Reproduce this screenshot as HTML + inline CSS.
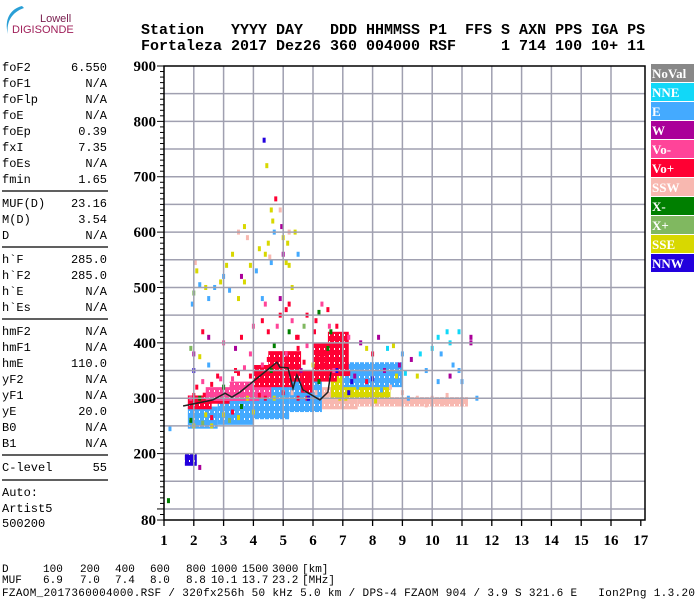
<!DOCTYPE html>
<html><head><meta charset="utf-8"><style>
html,body{margin:0;padding:0;background:#fff;}
svg{display:block;}
.m{font-family:"Liberation Mono",monospace;font-size:12px;fill:#000;}
.h{font-family:"Liberation Mono",monospace;font-size:15px;font-weight:bold;fill:#000;}
.b{font-family:"Liberation Mono",monospace;font-size:11px;fill:#000;}
.ax{font-family:"Liberation Serif",serif;font-size:15px;font-weight:bold;fill:#000;}
.lg{font-family:"Liberation Serif",serif;font-size:13px;font-weight:bold;fill:#fff;}
</style></head><body>
<svg id="c" width="700" height="600" xmlns="http://www.w3.org/2000/svg">
<defs id="defs"></defs>
<g>
<path d="M22 6 C10 9 4 20 8 34 C6 22 12 12 24 8 Z" fill="#2a9fd6"/>
<text x="40" y="22" font-family="Liberation Sans,sans-serif" font-size="11" fill="#7a2050">Lowell</text>
<text x="12" y="33" font-family="Liberation Sans,sans-serif" font-size="11" fill="#a0205a">DIGISONDE</text>
</g>
<text class="h" x="141" y="34" xml:space="preserve">Station   YYYY DAY   DDD HHMMSS P1  FFS S AXN PPS IGA PS</text>
<text class="h" x="141" y="50" xml:space="preserve">Fortaleza 2017 Dez26 360 004000 RSF     1 714 100 10+ 11</text>
<g id="params"></g>
<g id="plot"></g>
<g id="legend"></g>
<g>
<text class="b" x="2" y="572">D</text><text class="b" x="43" y="572">100</text><text class="b" x="80" y="572">200</text><text class="b" x="115" y="572">400</text><text class="b" x="150" y="572">600</text><text class="b" x="186" y="572">800</text><text class="b" x="211" y="572">1000</text><text class="b" x="242" y="572">1500</text><text class="b" x="272" y="572">3000</text><text class="b" x="302" y="572">[km]</text>
<text class="b" x="2" y="583">MUF</text><text class="b" x="43" y="583">6.9</text><text class="b" x="80" y="583">7.0</text><text class="b" x="115" y="583">7.4</text><text class="b" x="150" y="583">8.0</text><text class="b" x="186" y="583">8.8</text><text class="b" x="211" y="583">10.1</text><text class="b" x="242" y="583">13.7</text><text class="b" x="272" y="583">23.2</text><text class="b" x="302" y="583">[MHz]</text>
<text class="b" x="2" y="596" textLength="693" lengthAdjust="spacing" xml:space="preserve">FZAOM_2017360004000.RSF / 320fx256h 50 kHz 5.0 km / DPS-4 FZAOM 904 / 3.9 S 321.6 E   Ion2Png 1.3.20</text>
</g>
</svg>
<script>
// legend / echo types
const typeNames=["NoVal","NNE","E","W","Vo-","Vo+","SSW","X-","X+","SSE","NNW"];
const typeColors=["#888888","#11d8f8","#44aaff","#aa0099","#ff4499","#ff0033","#f8b8b0","#007f00","#80b860","#d8d800","#2200dd"];
// axis ticks
const freqTicks=[1,2,3,4,5,6,7,8,9,10,11,12,13,14,15,16,17];
const heightTicks=[80,200,300,400,500,600,700,800,900];
// trace (black line)
const traceF=[1.64,2.64,3.05,3.28,3.55,4.79,4.89,5.16,5.33,5.46,5.66,6.23,6.50,6.60];
const traceH=[286,297,309,302,311,365,356,355,318,342,315,297,311,347];
// dense echo bands
const bandF0=[1.8,2.8,4.0,5.2,6.3,7.5,6.6,1.8,4.5,6.0,3.2,7.0,1.7,2.3,5.6,2.4,4.0,6.5];
const bandF1=[2.8,4.0,5.2,6.3,7.5,11.2,8.6,2.6,5.6,6.8,4.6,9.0,2.1,3.2,6.0,4.2,5.3,7.2];
const bandH0=[245,252,262,275,280,285,300,280,330,330,300,320,178,290,310,295,320,340];
const bandH1=[285,298,322,338,320,302,340,305,385,400,330,365,200,310,350,320,360,420];
const bandT=[2,2,2,2,6,6,9,5,5,5,4,2,10,5,5,4,5,5];
// scattered echoes
const ptF=[4.36,4.45,4.75,4.6,4.65,4.7,4.9,4.95,5.0,5.15,5.2,4.5,4.4,4.55,4.6,5.0,5.1,5.2,3.7,3.8,3.5,3.3,3.1,3.0,3.6,3.7,2.9,2.7,2.4,2.2,2.0,1.95,2.5,2.1,2.05,3.9,4.2,4.1,5.5,5.4,4.3,4.9,5.3,5.2,4.4,3.2,3.5,
2.5,2.3,1.9,2.0,2.2,2.0,2.5,3.0,3.4,3.6,3.9,4.0,4.3,4.5,4.8,4.9,5.1,5.2,5.3,5.5,5.7,5.8,6.1,6.2,6.3,6.5,6.6,6.8,7.0,7.2,7.6,7.8,8.0,8.2,8.5,8.7,9.0,9.3,9.6,10.0,10.2,10.5,10.6,10.9,11.3,11.3,10.3,10.7,10.9,11.0,9.8,9.5,10.2,10.6,9.1,8.9,8.4,8.8,11.5,
2.1,2.3,2.6,2.8,3.0,3.3,3.5,3.7,3.9,4.1,4.3,4.5,4.6,4.8,5.0,5.1,5.3,5.5,5.6,5.7,5.9,6.0,6.2,6.4,6.5,6.6,6.8,7.0,7.2,7.4,7.6,7.8,8.0,8.2,1.9,2.2,2.4,2.6,3.0,3.3,3.6,3.8,4.2,4.4,4.7,5.0,5.3,5.5,5.8,6.1,6.4,6.9,7.2,7.5,7.8,8.3,8.6,9.0,9.5,10.0,10.5,11.0,1.9,2.0,2.3,2.6,3.2,3.5,4.0,1.2,1.15,2.2,
5.45,5.8,6.05,6.4,6.55,5.0,4.7,3.4,2.9,2.0,7.1,7.3,8.1,8.9,9.2,9.8,10.4,6.7,6.2,5.85];
const ptH=[766,720,660,640,620,600,640,610,590,580,600,580,560,555,545,560,545,540,610,590,600,560,540,520,520,510,510,500,500,505,490,470,480,530,545,540,570,530,560,600,480,480,500,470,470,495,480,
410,420,390,380,375,350,360,400,390,410,380,430,440,420,430,450,460,420,440,410,430,450,440,455,470,460,420,430,400,410,400,390,380,410,390,395,380,370,380,390,410,420,400,420,410,400,380,360,350,330,350,340,330,340,345,360,350,340,300,
320,330,325,340,320,335,345,355,340,350,360,370,350,340,360,380,370,390,350,365,340,360,380,360,390,370,350,360,345,340,350,330,335,345,300,300,270,265,270,275,285,300,305,300,300,310,310,300,300,310,300,300,310,320,315,315,320,310,300,300,305,295,260,250,255,250,260,265,275,245,115,175,
410,395,420,380,430,300,395,350,335,305,300,330,295,290,300,288,292,350,330,300];
const ptT=[10,9,5,9,9,2,6,3,9,9,6,9,9,6,2,3,9,9,9,6,6,9,9,2,3,9,9,2,9,2,8,2,2,9,6,9,9,2,2,9,2,3,9,5,4,2,9,
3,5,8,3,9,10,2,4,3,5,4,4,5,5,4,5,5,7,4,5,8,5,5,7,4,5,7,5,5,4,3,9,5,3,1,9,2,3,1,1,1,1,1,1,3,3,2,2,2,2,2,9,2,3,1,3,3,9,2,
5,4,5,5,7,4,5,4,5,5,4,5,7,5,5,4,5,5,3,5,5,9,5,5,7,5,10,5,5,3,2,5,10,2,4,7,9,5,9,5,7,9,5,5,9,5,6,5,5,6,6,9,10,2,9,2,6,6,6,6,6,6,7,9,8,9,8,9,9,2,7,3,
5,4,5,5,4,1,7,5,4,5,9,10,9,6,2,6,6,4,7,10];

const NS="http://www.w3.org/2000/svg";
const svg=document.getElementById('c');
function el(tag,attrs,parent){const e=document.createElementNS(NS,tag);for(const k in attrs)e.setAttribute(k,attrs[k]);(parent||svg).appendChild(e);return e;}
const X0=164,X1=645,Y0=66,Y1=520;
function xS(f){return X0+(f-1)*29.8;}
function yS(h){return Y0+(900-h)*0.5537;}

// textured patterns per echo type
const defs=document.getElementById('defs');
typeColors.forEach((c,i)=>{
  const p=el('pattern',{id:'pt'+i,width:5,height:7,patternUnits:'userSpaceOnUse'},defs);
  el('rect',{x:0,y:0,width:5,height:7,fill:c},p);
  el('rect',{x:4,y:5,width:1,height:2,fill:'#fff'},p);
});

// parameter panel
const params=[["foF2","6.550",67],["foF1","N/A",83],["foFlp","N/A",99],["foE","N/A",115],["foEp","0.39",131],["fxI","7.35",147],["foEs","N/A",163],["fmin","1.65",179],
["MUF(D)","23.16",203],["M(D)","3.54",219],["D","N/A",235],["h`F","285.0",259],["h`F2","285.0",275],["h`E","N/A",291],["h`Es","N/A",307],
["hmF2","N/A",331],["hmF1","N/A",347],["hmE","110.0",363],["yF2","N/A",379],["yF1","N/A",395],["yE","20.0",411],["B0","N/A",427],["B1","N/A",443],["C-level","55",467],
["Auto:","",492],["Artist5","",508],["500200","",523]];
const pg=document.getElementById('params');
params.forEach(p=>{
  const t=el('text',{class:'m',x:2,y:p[2]+4},pg);t.textContent=p[0];
  
  
  if(p[1]){const v=el('text',{class:'m',x:107,y:p[2]+4,'text-anchor':'end'},pg);v.textContent=p[1];
  
  }
});
[191,247,319,455,480].forEach(y=>{const l=el('line',{x1:2,x2:108,y1:y,y2:y,stroke:'#000','stroke-width':1.3},pg);
  
  });

const plot=document.getElementById('plot');


// bands
for(let i=0;i<bandF0.length;i++){
  const r=el('rect',{x:xS(bandF0[i]),y:yS(bandH1[i]),width:xS(bandF1[i])-xS(bandF0[i]),height:yS(bandH0[i])-yS(bandH1[i]),fill:'url(#pt'+bandT[i]+')'},plot);
  
  
}
// points
for(let i=0;i<ptF.length;i++){
  const r=el('rect',{x:xS(ptF[i])-1.5,y:yS(ptH[i])-2.5,width:3,height:5,fill:typeColors[ptT[i]]},plot);
  
  
}
// grid
for(let h=100;h<900;h+=50){const l=el('line',{x1:X0,x2:X1,y1:yS(h),y2:yS(h),stroke:'#a0a0b0','stroke-width':1.5},plot);
  
  }
for(let f=2;f<17;f++){const l=el('line',{x1:xS(f),x2:xS(f),y1:Y0,y2:Y1,stroke:'#a0a0b0','stroke-width':1.5},plot);
  
  }
// trace
let d='';traceF.forEach((f,i)=>{d+=(i?'L':'M')+xS(f).toFixed(1)+' '+yS(traceH[i]).toFixed(1);});
const tr=el('path',{d:d,stroke:'#222',fill:'none','stroke-width':1.5},plot);


// frame
const fr=el('rect',{x:X0,y:Y0,width:X1-X0,height:Y1-Y0,fill:'none',stroke:'#000','stroke-width':1.5},plot);


// y ticks
for(let h=80;h<=900;h+=10){const major=(h%100===0)||h===80;const t=el('line',{x1:X0-(major?7:4),x2:X0,y1:yS(h),y2:yS(h),stroke:'#000','stroke-width':1},plot);
  
  }
heightTicks.forEach(h=>{const t=el('text',{class:'ax',x:X0-8,y:yS(h)+5,'text-anchor':'end'},plot);t.textContent=h;
  
  });
freqTicks.forEach(f=>{const l=el('line',{x1:xS(f),x2:xS(f),y1:Y1,y2:Y1+6,stroke:'#000','stroke-width':1.3},plot);
  
  
  const t=el('text',{class:'ax',x:xS(f),y:545,'text-anchor':'middle'},plot);t.textContent=f;
  
  });
// legend
const lg=document.getElementById('legend');
typeNames.forEach((n,i)=>{
  const y=64+i*19;
  const r=el('rect',{x:651,y:y,width:43,height:18,fill:typeColors[i]},lg);
  
  
  const t=el('text',{class:'lg',x:652,y:y+14},lg);t.textContent=n;
  
  
});
</script>
</body></html>
